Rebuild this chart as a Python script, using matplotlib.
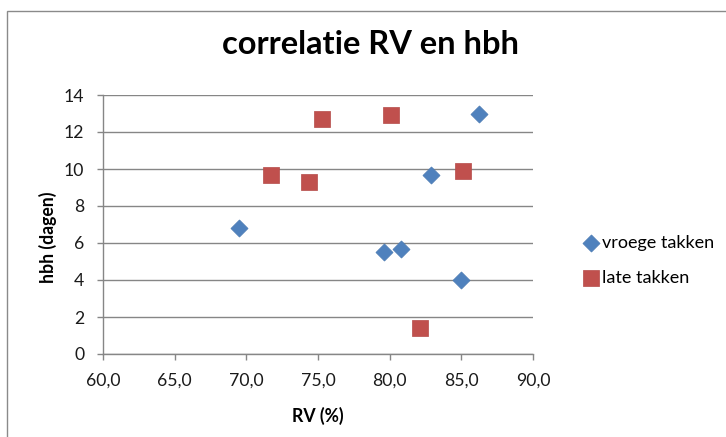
import numpy as np
from matplotlib import pyplot as plt
from matplotlib.patches import Rectangle

# RV (%) and hbh (dagen) for the two groups of branches
rv_vroeg = [69.5, 79.6, 80.8, 82.9, 85.0, 86.2]
hbh_vroeg = [6.8, 5.5, 5.7, 9.7, 4.0, 13.0]
rv_laat = [71.7, 74.4, 75.3, 80.1, 82.1, 85.1]
hbh_laat = [9.7, 9.3, 12.7, 12.9, 1.4, 9.9]

x_ticks = [60, 65, 70, 75, 80, 85, 90]
y_ticks = [0, 2, 4, 6, 8, 10, 12, 14]

plt.rcParams['font.family'] = ['Lato', 'DejaVu Sans']

W, H = 726, 437
fig = plt.figure(figsize=(W / 100, H / 100), dpi=100)

# chart frame (runs off the right and bottom edge)
fig.patches.append(Rectangle((6.5 / W, -0.1), 1.2, 1.1 - 11 / H,
                             transform=fig.transFigure, fill=False,
                             edgecolor="#8a8a8a", linewidth=1.0))

ax = fig.add_axes([103 / W, 1 - 354 / H, 430 / W, 259 / H])

ax.scatter(rv_vroeg, hbh_vroeg, marker="D", s=8.7 ** 2, color="#4F81BD",
           edgecolors="#4A7AB3", linewidths=0.5, label="vroege takken", zorder=3)
ax.scatter(rv_laat, hbh_laat, marker="s", s=11 ** 2, color="#C0504D",
           edgecolors="#B54B48", linewidths=0.5, label="late takken", zorder=3)

ax.set_xlim(60, 90)
ax.set_ylim(0, 14)
ax.set_xticks(x_ticks)
ax.set_yticks(y_ticks)
ax.set_xticklabels([("%.1f" % v).replace(".", ",") for v in x_ticks])
ax.set_yticklabels([str(v) for v in y_ticks])

ax.grid(axis="y", color="#868686", linewidth=1.0)
ax.set_axisbelow(True)
for side in ["top", "right"]:
    ax.spines[side].set_visible(False)
for side in ["left", "bottom"]:
    ax.spines[side].set_color("#868686")
    ax.spines[side].set_linewidth(1.0)
ax.tick_params(axis="both", color="#868686", width=1.0, length=4.5,
               labelsize=12.7, labelcolor="#1a1a1a")
ax.tick_params(axis="y", pad=9)
ax.tick_params(axis="x", pad=9)

ax.set_xlabel("RV (%)", fontsize=12.7, fontweight="bold")
ax.set_ylabel("hbh (dagen)", fontsize=12.7, fontweight="bold")
ax.xaxis.set_label_coords((318 - 103) / 430, (354 - 416) / 259)
ax.yaxis.set_label_coords((48 - 103) / 430, (354 - 237) / 259)
ax.xaxis.label.set_va("center")
ax.yaxis.label.set_va("center")

fig.text(371 / W, 1 - 44 / H, "correlatie RV en hbh", fontsize=23.5,
         fontweight="bold", ha="center", va="center")

ax.legend(loc="center left", bbox_to_anchor=(575 / W, 1 - 260.5 / H),
          bbox_transform=fig.transFigure, frameon=False, fontsize=13,
          handletextpad=0.1, labelspacing=1.05, borderaxespad=0,
          handlelength=1.0, scatterpoints=1)

plt.savefig("out.png", dpi=100)
plt.close()
